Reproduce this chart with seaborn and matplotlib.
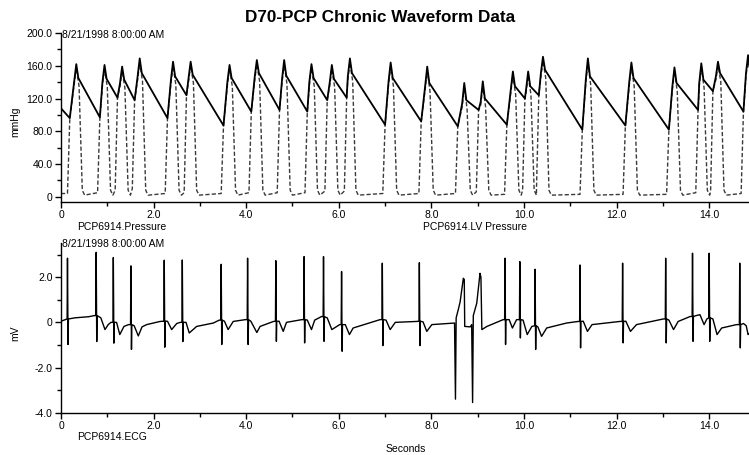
import numpy as np
import pandas as pd
import matplotlib
matplotlib.use('Agg')
import matplotlib.pyplot as plt
import seaborn as sns
from matplotlib.ticker import MultipleLocator, FuncFormatter

# Pressure beats (seconds, mmHg)
beat_onset = [0.19, 0.84, 1.22, 1.59, 2.30, 2.71, 3.51, 4.11, 4.72, 5.32, 5.75, 6.17, 7.00,
              7.78, 8.57, 9.02, 9.63, 10.02, 10.32, 11.26, 12.19, 13.13, 13.76, 14.08, 14.74]
beat_dia = [96, 97, 121, 118, 96, 124, 87, 104, 106, 104, 118, 121, 88,
            92, 86, 106, 88, 120, 124, 82, 87, 82, 106, 129, 104]
beat_peak_t = [0.33, 0.94, 1.32, 1.70, 2.42, 2.80, 3.64, 4.23, 4.82, 5.41, 5.85, 6.24, 7.12,
               7.91, 8.71, 9.11, 9.76, 10.09, 10.41, 11.38, 12.32, 13.25, 13.83, 14.19, 14.84]
beat_sys = [162, 161, 159, 169, 165, 165, 161, 167, 167, 162, 161, 169, 164,
            159, 139, 141, 153, 153, 171, 169, 164, 158, 163, 165, 173]
beat_notch = [145, 144, 143, 151, 147, 149, 145, 151, 148, 145, 144, 151, 145,
              139, 118, 120, 135, 135, 155, 147, 145, 139, 143, 151, 155]
lv_edp = [4, 5, 8, 10, 4, 5, 4, 5, 5, 5, 7, 7, 4,
          4, 4, 6, 3, 8, 10, 3, 3, 3, 5, 6, 4]
aortic_start = 108
lv_start = 4

# ECG (seconds, mV)
qrs_t = [0.14, 0.76, 1.13, 1.51, 2.23, 2.62, 3.46, 4.03, 4.64, 5.25, 5.67, 6.06,
         6.94, 7.74, 9.59, 9.91, 10.24, 11.21, 12.13, 13.06, 13.64, 14.00, 14.66]
qrs_top = [2.84, 3.10, 2.87, 2.50, 2.75, 2.76, 2.57, 2.84, 2.73, 2.91, 2.91, 2.25,
           2.62, 2.64, 2.84, 2.69, 2.35, 2.54, 2.62, 2.84, 3.06, 3.06, 2.62]
qrs_bottom = [-0.98, -0.85, -0.92, -1.20, -1.10, -0.85, -0.98, -0.98, -0.84, -0.91, -0.84, -1.28,
              -1.03, -1.03, -0.98, -0.69, -1.20, -1.13, -0.91, -0.91, -0.84, -0.84, -1.13]
qrs_level = [0.15, 0.30, 0.00, -0.10, 0.05, 0.00, 0.10, 0.12, 0.05, 0.12, 0.25, -0.10,
             0.12, 0.05, 0.12, 0.12, -0.15, 0.04, 0.04, 0.15, 0.26, 0.20, -0.10]
ecg_base_t = [0.0, 0.30, 0.60, 0.72, 0.86, 0.95, 1.02, 1.08, 1.20, 1.27, 1.36, 1.46, 1.58, 1.67,
              1.75, 1.85, 2.14, 2.30, 2.39, 2.50, 2.58, 2.70, 2.77, 2.93, 3.29, 3.42, 3.53, 3.61,
              3.72, 3.98, 4.10, 4.23, 4.30, 4.59, 4.71, 4.80, 4.87, 5.20, 5.32, 5.41, 5.48, 5.63,
              5.75, 5.85, 5.96, 6.02, 6.14, 6.23, 6.31, 6.89, 7.02, 7.11, 7.22, 7.68, 7.82, 7.90,
              8.01, 8.47, 8.50, 8.52, 8.535, 8.58, 8.62, 8.69, 8.71, 8.72, 8.84, 8.87, 8.89, 8.905,
              8.98, 9.05, 9.07, 9.09, 9.20, 9.55, 9.68, 9.75, 9.84, 9.98, 10.07, 10.17, 10.30,
              10.38, 10.49, 10.92, 11.17, 11.28, 11.37, 11.47, 12.07, 12.20, 12.30, 12.43, 13.01,
              13.13, 13.23, 13.33, 13.59, 13.72, 13.80, 13.89, 13.95, 14.08, 14.17, 14.27, 14.59,
              14.74, 14.80, 14.84, 14.86]
ecg_base_mv = [0.05, 0.20, 0.25, 0.30, 0.20, -0.32, -0.10, 0.00, 0.00, -0.54, -0.18, -0.10, -0.15, -0.60,
               -0.20, -0.10, 0.04, 0.05, -0.32, -0.05, 0.00, 0.00, -0.47, -0.18, -0.03, 0.10, 0.05, -0.32,
               0.04, 0.12, 0.05, -0.45, -0.18, 0.04, 0.05, -0.40, 0.00, 0.12, 0.10, -0.32, 0.10, 0.26,
               0.20, -0.32, -0.18, -0.10, -0.10, -0.54, -0.25, 0.12, 0.10, -0.32, 0.00, 0.04, 0.02, -0.40,
               -0.10, -0.03, -0.03, -3.40, 0.20, 0.56, 0.90, 1.95, 1.90, -0.18, -0.20, -0.10, -3.55, 0.30,
               0.85, 2.17, 2.00, -0.32, -0.18, 0.12, 0.12, -0.25, 0.12, 0.10, -0.54, -0.18, -0.20,
               -0.62, -0.25, -0.03, 0.04, 0.05, -0.40, -0.10, 0.04, 0.05, -0.40, -0.10, 0.15,
               0.10, -0.32, 0.04, 0.26, 0.30, 0.34, -0.10, 0.15, 0.15, -0.54, -0.25, -0.10,
               -0.05, -0.15, -0.54, -0.50]

# build the pressure traces beat by beat
ao_t, ao_p = [0.0], [aortic_start]
lv_t, lv_p = [0.0], [lv_start]
for i in range(len(beat_onset)):
    on, pk = beat_onset[i], beat_peak_t[i]
    ao_t += [on, pk - 0.045, pk, pk + 0.045]
    ao_p += [beat_dia[i], beat_notch[i] - 4, beat_sys[i], beat_notch[i]]
    lv_t += [on - 0.05, on, pk - 0.045, pk, pk + 0.06, pk + 0.13, pk + 0.18]
    lv_p += [lv_edp[i], beat_dia[i], beat_notch[i] - 8, beat_sys[i] - 5, beat_notch[i] - 10, 8, 2]
aortic = pd.DataFrame({'t': ao_t, 'p': ao_p})
lv = pd.DataFrame({'t': lv_t, 'p': lv_p})

# ECG: wander/T-waves plus the QRS spikes
e_t = list(ecg_base_t)
e_v = list(ecg_base_mv)
for t, top, bot, lvl in zip(qrs_t, qrs_top, qrs_bottom, qrs_level):
    e_t += [t - 0.008, t, t + 0.012, t + 0.02]
    e_v += [lvl, top, bot, lvl]
order = np.argsort(e_t, kind='stable')
ecg = pd.DataFrame({'t': np.array(e_t)[order], 'mv': np.array(e_v)[order]})

sns.set_theme(style='ticks')
plt.rcParams['font.family'] = ['Liberation Sans', 'DejaVu Sans']
plt.rcParams['text.color'] = 'black'
plt.rcParams['xtick.color'] = 'black'
plt.rcParams['ytick.color'] = 'black'

W, H = 749, 455
fig = plt.figure(figsize=(W / 100, H / 100), dpi=100)
ax1 = fig.add_axes([61 / W, 1 - 201.7 / H, 688 / W, 168.7 / H])
ax2 = fig.add_axes([61 / W, 1 - 412.7 / H, 688 / W, 169.4 / H])

sns.lineplot(data=lv, x='t', y='p', ax=ax1, color='#3a3a3a', linewidth=1.0,
             linestyle=(0, (3, 1.6)), sort=False, estimator=None)
sns.lineplot(data=aortic, x='t', y='p', ax=ax1, color='black', linewidth=1.3,
             sort=False, estimator=None)
sns.lineplot(data=ecg, x='t', y='mv', ax=ax2, color='black', linewidth=1.0,
             sort=False, estimator=None)

def fmt(v, pos):
    return '0' if abs(v) < 1e-9 else f'{v:.1f}'

for ax in (ax1, ax2):
    ax.set_xlim(0, 14.86)
    ax.xaxis.set_major_locator(MultipleLocator(2))
    ax.xaxis.set_minor_locator(MultipleLocator(1))
    ax.xaxis.set_major_formatter(FuncFormatter(fmt))
    ax.yaxis.set_major_formatter(FuncFormatter(fmt))
    ax.set_xlabel('')
    ax.set_ylabel('')
    sns.despine(ax=ax)
    for s in ('left', 'bottom'):
        ax.spines[s].set_linewidth(1.0)
        ax.spines[s].set_color('black')
    ax.tick_params(which='major', direction='out', length=4, width=1, labelsize=7.5,
                   pad=2, colors='black')
    ax.tick_params(which='minor', direction='out', length=3, width=1, colors='black')
    ax.set_facecolor('white')

ax1.set_ylim(-6, 200)
ax1.yaxis.set_major_locator(MultipleLocator(40))
ax1.yaxis.set_minor_locator(MultipleLocator(20))
ax2.set_ylim(-4, 3.5)
ax2.yaxis.set_major_locator(MultipleLocator(2))
ax2.yaxis.set_minor_locator(MultipleLocator(1))

def ftext(x, y, s, **kw):
    fig.text(x / W, 1 - y / H, s, color='black', **kw)

ftext(380, 17, 'D70-PCP Chronic Waveform Data', ha='center', va='center',
      fontsize=12.3, fontweight='bold')
ftext(62, 35, '8/21/1998 8:00:00 AM', ha='left', va='center', fontsize=7.5)
ftext(62, 244, '8/21/1998 8:00:00 AM', ha='left', va='center', fontsize=7.5)
ftext(77, 227, 'PCP6914.Pressure', ha='left', va='center', fontsize=7.5)
ftext(423, 227, 'PCP6914.LV Pressure', ha='left', va='center', fontsize=7.5)
ftext(77, 437, 'PCP6914.ECG', ha='left', va='center', fontsize=7.5)
ftext(406, 449, 'Seconds', ha='center', va='center', fontsize=7.5)
ftext(15, 122, 'mmHg', ha='center', va='center', rotation=90, fontsize=7.5)
ftext(15, 333, 'mV', ha='center', va='center', rotation=90, fontsize=7.5)

fig.savefig('out.png', dpi=100, facecolor='white')
